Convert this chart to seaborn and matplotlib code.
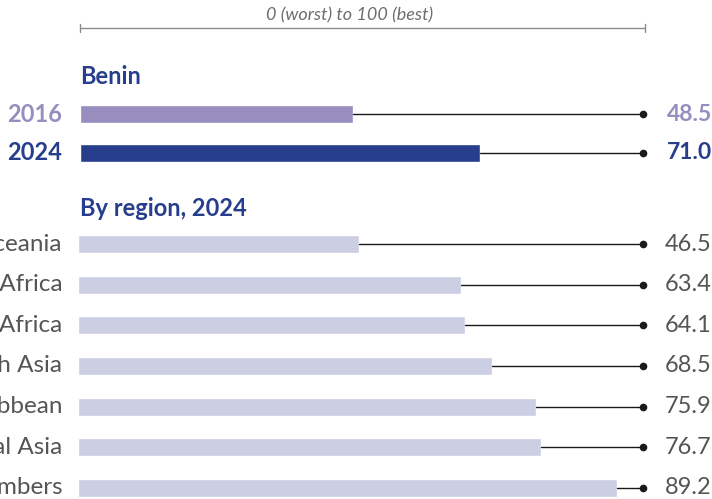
import matplotlib
matplotlib.use("Agg")
import matplotlib.pyplot as plt
from matplotlib.lines import Line2D
import pandas as pd
import seaborn as sns

# ------------------------------------------------------------------
# Data
# ------------------------------------------------------------------
YEARS = ["2016", "2024"]
BENIN_SCORES = [48.5, 71.0]
YEAR_COLORS = ["#978dbf", "#263e8c"]

REGIONS = [
    "Oceania",
    "Sub-Saharan Africa",
    "Middle East & North Africa",
    "East & South Asia",
    "Latin America & the Caribbean",
    "Eastern Europe & Central Asia",
    "OECD members",
]
REGION_SCORES = [46.5, 63.4, 64.1, 68.5, 75.9, 76.7, 89.2]

NAVY = "#263e8c"
GREY_TEXT = "#555555"
REGION_BAR = "#cccee3"
LINE_COL = "#1a1a1a"

sns.set_theme(style="white")
plt.rcParams["font.family"] = ["Lato", "DejaVu Sans"]

W, H = 712, 499
fig = plt.figure(figsize=(W / 100, H / 100), dpi=100)


def box(x0, y0, x1, y1):
    # pixel box (top-left origin) -> figure fraction rect
    return [x0 / W, 1 - y1 / H, (x1 - x0) / W, (y1 - y0) / H]


# ------------------------------------------------------------------
# Scale ruler + headings
# ------------------------------------------------------------------
ry = 1 - 28 / H
fig.add_artist(Line2D([80 / W, 645 / W], [ry, ry], color="#8c8c8c", lw=1))
for xp in (80, 645):
    fig.add_artist(Line2D([xp / W, xp / W], [ry - 4 / H, ry + 4 / H], color="#8c8c8c", lw=1))
fig.text(350 / W, 1 - 15 / H, "0 (worst) to 100 (best)", ha="center", va="center",
         fontsize=13, style="italic", color="#6e6e6e")

fig.text(80 / W, 1 - 77 / H, "Benin", ha="left", va="center",
         fontsize=17, fontweight="bold", color=NAVY)
fig.text(80 / W, 1 - 208 / H, "By region, 2024", ha="left", va="center",
         fontsize=17, fontweight="bold", color=NAVY)

# ------------------------------------------------------------------
# Benin panel
# ------------------------------------------------------------------
ax1 = fig.add_axes(box(80, 95, 643, 172))
benin = pd.DataFrame({"year": YEARS, "score": BENIN_SCORES})
sns.barplot(data=benin, x="score", y="year", hue="year", palette=YEAR_COLORS,
            width=0.47, saturation=1, legend=False, ax=ax1)
ax1.set_xlim(0, 100)
ax1.set_ylim(1.5, -0.5)
ax1.set_axis_off()

for i, (yr, v, c) in enumerate(zip(YEARS, BENIN_SCORES, YEAR_COLORS)):
    ax1.plot([v, 100], [i, i], color=LINE_COL, lw=1, zorder=1)
    ax1.plot(100, i, "o", ms=4.5, color=LINE_COL, clip_on=False, zorder=3)
    ax1.text(104.2, i, f"{v:.1f}", ha="left", va="center", fontsize=16.5,
             fontweight="bold", color=c, clip_on=False)
    ax1.text(-3.2, i, yr, ha="right", va="center", fontsize=17,
             fontweight="bold", color=c, clip_on=False)

# ------------------------------------------------------------------
# Regions panel
# ------------------------------------------------------------------
ax2 = fig.add_axes(box(78, 223.7, 682, 508.3))
regions = pd.DataFrame({"region": REGIONS, "score": REGION_SCORES})
sns.barplot(data=regions, x="score", y="region", color=REGION_BAR,
            width=0.44, saturation=1, ax=ax2)
ax2.set_xlim(0, 100)
ax2.set_ylim(len(REGIONS) - 0.5, -0.5)
ax2.set_axis_off()

dot_x = (643 - 78) / 604 * 100
for i, (name, v) in enumerate(zip(REGIONS, REGION_SCORES)):
    ax2.plot([v, dot_x], [i, i], color=LINE_COL, lw=1, zorder=1)
    ax2.plot(dot_x, i, "o", ms=4.5, color=LINE_COL, clip_on=False, zorder=3)
    ax2.text(97.2, i, f"{v:.1f}", ha="left", va="center", fontsize=17,
             color=GREY_TEXT, clip_on=False)
    ax2.text(-2.6, i, name, ha="right", va="center", fontsize=17.5,
             color=GREY_TEXT, clip_on=False)

fig.savefig("out.png", dpi=100)
